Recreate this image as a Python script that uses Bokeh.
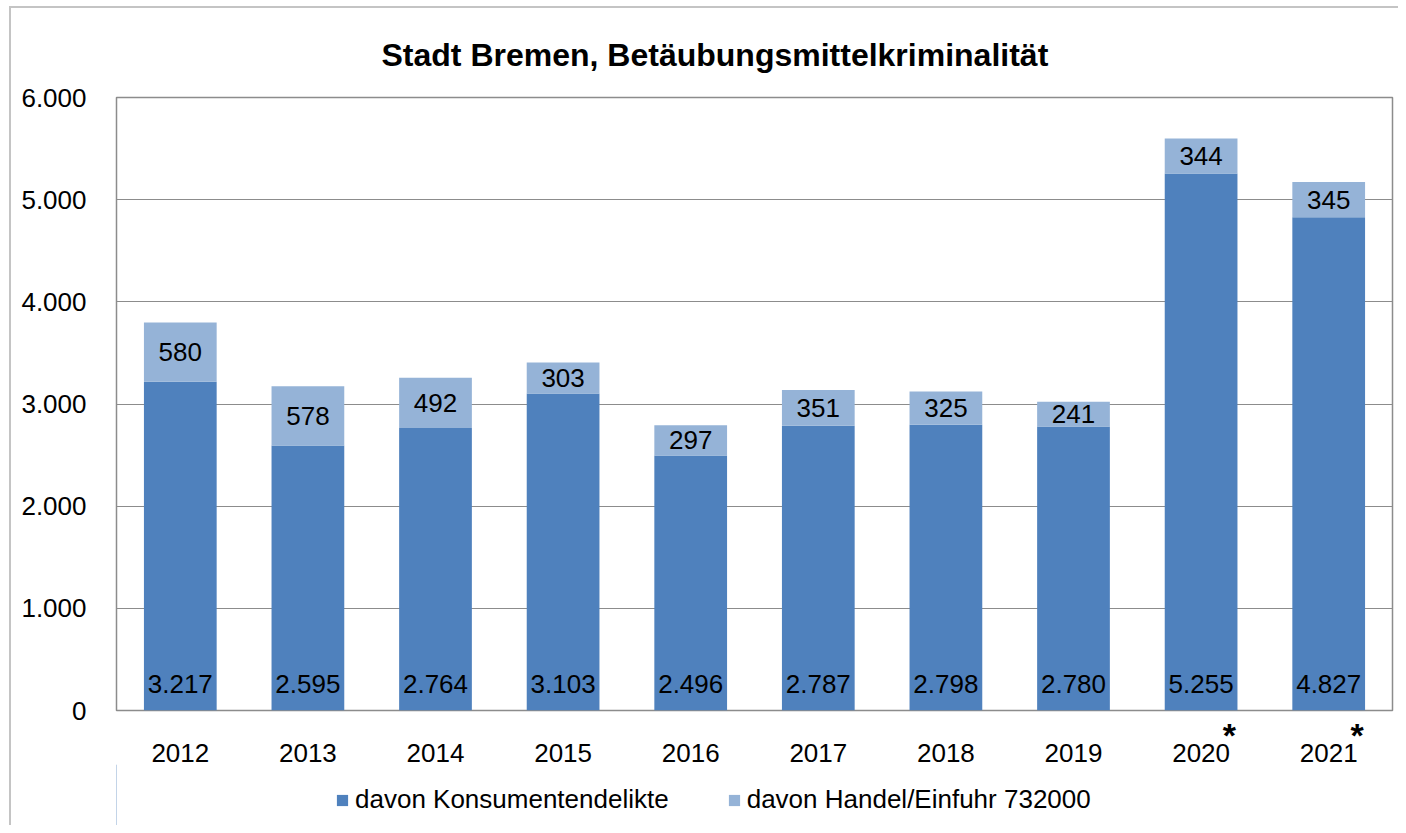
from bokeh.plotting import figure
from bokeh.layouts import column
from bokeh.models import (ColumnDataSource, FactorRange, Range1d, FixedTicker, Legend, LegendItem,
                          CategoricalAxis)
from bokeh.core.properties import value
from bokeh.embed import file_html
from bokeh.resources import INLINE

years = ["2012", "2013", "2014", "2015", "2016", "2017", "2018", "2019", "2020", "2021"]
konsum = [3217, 2595, 2764, 3103, 2496, 2787, 2798, 2780, 5255, 4827]
handel = [580, 578, 492, 303, 297, 351, 325, 241, 344, 345]
starred = ["2020", "2021"]
y_ticks = [0, 1000, 2000, 3000, 4000, 5000, 6000]
title_text = "Stadt Bremen, Betäubungsmittelkriminalität"
series_names = ["davon Konsumentendelikte", "davon Handel/Einfuhr 732000"]

def de(n):
    return f"{n:,}".replace(",", ".")

FONT = "Liberation Sans"
DARK = "#4F81BD"
LIGHT = "#95B3D7"
GRID = "#8C8C8C"
FS = "26px"

src = ColumnDataSource(dict(
    x=years,
    konsum=konsum,
    handel=handel,
    top=[a + b for a, b in zip(konsum, handel)],
    mid=[a + b / 2 for a, b in zip(konsum, handel)],
    zero=[0] * len(years),
    klab=[de(v) for v in konsum],
    hlab=[de(v) for v in handel],
))

p = figure(x_range=FactorRange(*years, range_padding=0), y_range=Range1d(0, 6000),
           width=1387, height=756, output_backend="svg", toolbar_location=None,
           x_axis_location=None,
           min_border_left=105, min_border_right=6, min_border_top=89, min_border_bottom=50)
p.outline_line_color = GRID
p.outline_line_width = 1.5
p.border_fill_color = "white"
p.xgrid.grid_line_color = None

p.title.text = title_text
p.title.text_font = FONT
p.title.text_font_size = "32px"
p.title.text_font_style = "bold"
p.title.text_color = "black"
p.title.align = "left"
p.title.offset = 265
p.title.standoff = 50

r1 = p.vbar(x="x", bottom="zero", top="konsum", width=0.57, source=src,
            fill_color=DARK, line_color=None)
r2 = p.vbar(x="x", bottom="konsum", top="top", width=0.57, source=src,
            fill_color=LIGHT, line_color=None)

p.text(x="x", y="mid", text="hlab", source=src, text_align="center", text_baseline="middle",
       text_font=value(FONT), text_font_size=FS, text_color="black")
p.text(x="x", y="zero", text="klab", source=src, text_align="center", text_baseline="middle",
       y_offset=-27, text_font=value(FONT), text_font_size=FS, text_color="black")

p.ygrid.grid_line_color = GRID
p.ygrid.grid_line_width = 1.2
p.yaxis.ticker = FixedTicker(ticks=y_ticks)
p.yaxis.major_label_overrides = {t: de(t) for t in y_ticks}
p.yaxis.major_label_text_font = FONT
p.yaxis.major_label_text_font_size = FS
p.yaxis.major_label_text_color = "black"
p.yaxis.major_tick_line_color = None
p.yaxis.minor_tick_line_color = None
p.yaxis.axis_line_color = None
p.yaxis.major_label_standoff = 24

# asterisk marks next to the starred years: a second categorical range whose
# factors sit at the same positions as the years (nearest axis to the frame)
star_factors = [("\u00a0" * 6 + "*" if yr in starred else "") + "\u200b" * (i + 1)
                for i, yr in enumerate(years)]
p.extra_x_ranges = {"stars": FactorRange(*star_factors, range_padding=0)}
star_axis = CategoricalAxis(
    x_range_name="stars",
    major_label_text_font=FONT, major_label_text_font_size="34px",
    major_label_text_font_style="bold", major_label_text_color="black",
    major_label_standoff=-1, axis_line_color=None, major_tick_line_color=None,
    minor_tick_line_color=None)
p.add_layout(star_axis, "below")

year_axis = CategoricalAxis(
    major_label_text_font=FONT, major_label_text_font_size=FS, major_label_text_color="black",
    major_label_standoff=-19, axis_line_color=None, major_tick_line_color=None,
    minor_tick_line_color=None)
p.add_layout(year_axis, "below")

# legend strip below the chart
lf = figure(x_range=Range1d(0, 1), y_range=Range1d(0, 1), width=1387, height=61,
            output_backend="svg", toolbar_location=None, x_axis_location=None,
            y_axis_location=None, min_border=0)
lf.outline_line_color = None
lf.xgrid.grid_line_color = None
lf.ygrid.grid_line_color = None
g1 = lf.vbar(x=[-5], top=[1], width=0.5, fill_color=DARK, line_color=None)
g2 = lf.vbar(x=[-5], top=[1], width=0.5, fill_color=LIGHT, line_color=None)
legend = Legend(items=[LegendItem(label=series_names[0], renderers=[g1]),
                       LegendItem(label=series_names[1], renderers=[g2])],
                orientation="horizontal", location=(219, 10),
                label_text_font=FONT, label_text_font_size=FS, label_text_color="black",
                label_standoff=6, glyph_width=14, glyph_height=14, spacing=58,
                margin=0, padding=0, border_line_color=None, background_fill_alpha=0)
lf.add_layout(legend, "center")

layout = column(p, lf, spacing=0, margin=(6, 0, 0, 9),
                styles={"border-top": "2px solid #C4C4C4", "border-left": "2px solid #C4C4C4"})

open("out.html", "w").write(file_html(layout, INLINE))
